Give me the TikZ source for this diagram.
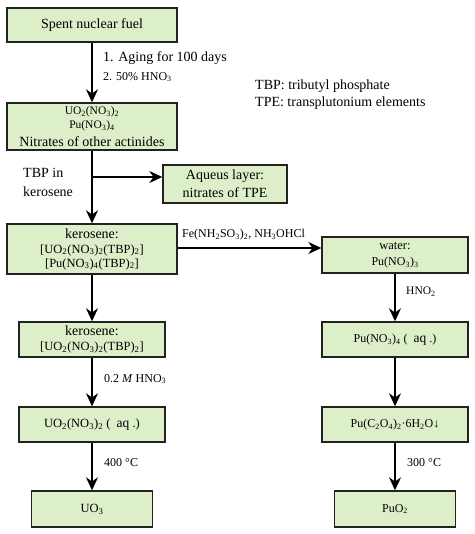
\documentclass[tikz,border=0pt]{standalone}
\usepackage{fontspec}
\setmainfont{Liberation Serif}
\usetikzlibrary{arrows.meta}
\newcommand\sbs[1]{\textsubscript{#1}}
\newcommand\fsz[1]{\fontsize{#1}{#1}\selectfont}
\definecolor{boxfill}{HTML}{DCEFC9}
\definecolor{boxline}{HTML}{222222}
\begin{document}
\begin{tikzpicture}[x=1pt,y=-1pt,
  box/.style={draw=boxline,fill=boxfill,line width=1.4pt,inner sep=0pt,align=center,
    font=\fontsize{14}{16}\selectfont},
  arr/.style={line width=1.6pt,draw=black,-{Stealth[length=13pt,width=12pt]}},
  lab/.style={anchor=west,inner sep=0pt,font=\fontsize{12}{14}\selectfont},
  big/.style={anchor=west,inner sep=0pt,font=\fontsize{14}{16}\selectfont}]
\useasboundingbox (0,0) rectangle (474,534);
% left column
\node[box,minimum width=170,minimum height=34] (fuel) at (92,25) {Spent nuclear fuel};
\node[box,minimum width=170,minimum height=47] (nit) at (92,126.5)
  {{\fsz{11.5}UO\sbs2(NO\sbs3)\sbs2}\\[-2pt]{\fsz{11.5}Pu(NO\sbs3)\sbs4}\\[2pt]Nitrates of other actinides};
\node[box,minimum width=124,minimum height=38] (aq) at (225,184)
  {Aqueus layer:\\[2pt]nitrates of TPE};
\node[box,minimum width=170,minimum height=50] (ker) at (92,249)
  {kerosene:\\[-1pt]{\fsz{12.5}[UO\sbs2(NO\sbs3)\sbs2(TBP)\sbs2]}\\[-2pt]{\fsz{12.5}[Pu(NO\sbs3)\sbs4(TBP)\sbs2]}};
\node[box,minimum width=146,minimum height=35] (ker2) at (92,339.5)
  {kerosene:\\[-1pt]{\fsz{12.5}[UO\sbs2(NO\sbs3)\sbs2(TBP)\sbs2]}};
\node[box,minimum width=146,minimum height=35] (uaq) at (92,424.5)
  {\fsz{12.5}UO\sbs2(NO\sbs3)\sbs2 (\ \ {\fsz{13.5}aq} .)};
\node[box,minimum width=121,minimum height=36] (uo3) at (92,509)
  {\fsz{12.5}UO\sbs3};
% right column
\node[box,minimum width=146,minimum height=36] (water) at (395,255)
  {{\fsz{12.5}water:}\\[0pt]{\fsz{12}Pu(NO\sbs3)\sbs3}};
\node[box,minimum width=146,minimum height=35] (puaq) at (395,339.5)
  {\fsz{12}Pu(NO\sbs3)\sbs4 (\ \ {\fsz{13.5}aq} .)};
\node[box,minimum width=146,minimum height=35] (pox) at (395,424.5)
  {\fsz{12}Pu(C\sbs2O\sbs4)\sbs2{\textperiodcentered}6H\sbs2O↓};
\node[box,minimum width=121,minimum height=36] (puo2) at (395,509)
  {\fsz{12}PuO\sbs2};
% labels
\node[big] (l1) at (103,58) {1. Aging for 100 days};
\node[lab] (l2) at (103,77) {2. 50\% HNO\sbs3};
\node[big,align=left] (legend) at (255,95) {TBP: tributyl phosphate\\[1pt]TPE: transplutonium elements};
\node[big,align=left] (tbp) at (23,182) {TBP in\\[3pt]kerosene};
\node[lab] (fe) at (182,235) {Fe(NH\sbs2SO\sbs3)\sbs2, NH\sbs3OHCl};
\node[lab,font=\fontsize{11.5}{13}\selectfont] (hno2) at (406,292) {HNO\sbs2};
\node[lab] (m02) at (104,379) {0.2 \textit{M} HNO\sbs3};
\node[lab] (t400) at (104,463) {400 °C};
\node[lab] (t300) at (407,463) {300 °C};
% connectors
\coordinate (br) at (92,177);
\coordinate (hr) at (0,248);
\draw[arr] (fuel) -- (nit);
\draw[arr] (nit) -- (ker);
\draw[arr] (br) -- (br -| aq.west);
\draw[arr] (ker.east |- hr) -- (water.west |- hr);
\draw[arr] (ker) -- (ker2);
\draw[arr] (ker2) -- (uaq);
\draw[arr] (uaq) -- (uo3);
\draw[arr] (water) -- (puaq);
\draw[arr] (puaq) -- (pox);
\draw[arr] (pox) -- (puo2);
\end{tikzpicture}
\end{document}
